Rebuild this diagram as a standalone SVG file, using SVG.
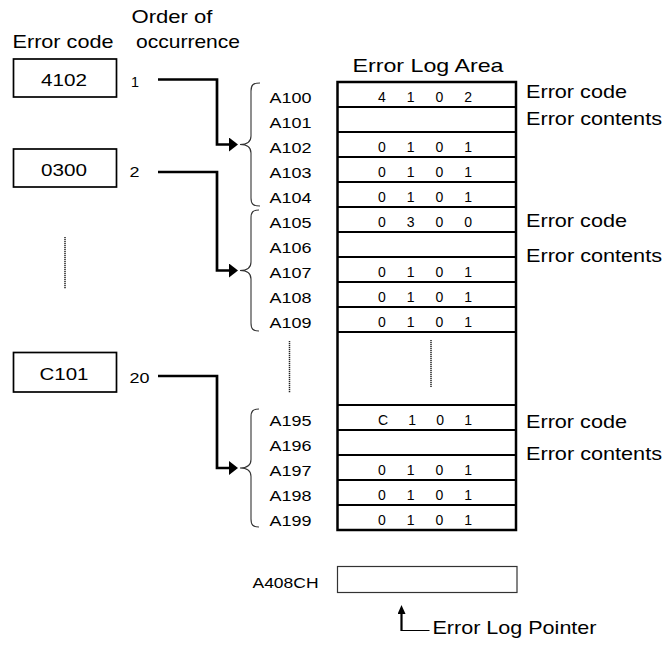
<svg xmlns="http://www.w3.org/2000/svg" width="665" height="645" viewBox="0 0 665 645">
<style>
text{font-family:"Liberation Sans",Arial,Helvetica,sans-serif;fill:#000}
.lg{font-size:18.5px}
.md{font-size:16.5px}
.sm{font-size:15px}
.xs{font-size:14px}
.box{fill:#fff;stroke:#000;stroke-width:1.7}
.tbl{fill:none;stroke:#000;stroke-width:2.5}
.row{stroke:#000;stroke-width:2}
.reg{fill:#fff;stroke:#333;stroke-width:1.2}
.brace{fill:none;stroke:#333;stroke-width:1.1}
.dots{stroke:#222;stroke-width:1.5;stroke-dasharray:1.2 0.8}
.conn{fill:none;stroke:#000;stroke-width:2.7}
.thin{fill:none;stroke:#000;stroke-width:1}
</style>
<defs>
<marker id="arr" markerUnits="userSpaceOnUse" markerWidth="9" markerHeight="14" viewBox="0 0 9 14" refX="0" refY="7" orient="auto"><path d="M0,0 L9,7 L0,14 z" fill="#000"/></marker>
<marker id="ptr" markerUnits="userSpaceOnUse" markerWidth="9" markerHeight="8" viewBox="0 0 9 8" refX="0" refY="4" orient="auto"><path d="M0,0 L9,4 L0,8 z" fill="#000"/></marker>
</defs>

<g id="headers">
<text class="lg" x="12.5" y="48.3" textLength="101" lengthAdjust="spacingAndGlyphs">Error code</text>
<text class="lg" x="131.5" y="22.7" textLength="81" lengthAdjust="spacingAndGlyphs">Order of</text>
<text class="lg" x="136" y="48.3" textLength="104" lengthAdjust="spacingAndGlyphs">occurrence</text>
<text class="lg" x="352.5" y="71.7" textLength="151" lengthAdjust="spacingAndGlyphs">Error Log Area</text>
</g>

<g id="code-4102">
<rect class="box" x="13.5" y="59" width="103" height="38"/>
<text class="md" x="41" y="86" textLength="46" lengthAdjust="spacingAndGlyphs">4102</text>
<text class="xs" x="131" y="86.5" textLength="8" lengthAdjust="spacingAndGlyphs">1</text>
</g>
<g id="code-0300">
<rect class="box" x="13.5" y="149" width="103" height="38"/>
<text class="md" x="41" y="176" textLength="46" lengthAdjust="spacingAndGlyphs">0300</text>
<text class="xs" x="129.5" y="177" textLength="10" lengthAdjust="spacingAndGlyphs">2</text>
</g>
<g id="code-C101">
<rect class="box" x="13.5" y="352.5" width="103" height="39.5"/>
<text class="md" x="39.5" y="380" textLength="49" lengthAdjust="spacingAndGlyphs">C101</text>
<text class="xs" x="129.5" y="382.7" textLength="20" lengthAdjust="spacingAndGlyphs">20</text>
</g>
<g id="ellipsis-left">
<line class="dots" x1="65" y1="237" x2="65" y2="289"/>
</g>

<g id="error-log-area">
<rect class="tbl" x="337.5" y="82" width="178.5" height="448"/>
<g class="row">
<line x1="337.5" y1="107" x2="516" y2="107"/>
<line x1="337.5" y1="132" x2="516" y2="132"/>
<line x1="337.5" y1="157" x2="516" y2="157"/>
<line x1="337.5" y1="182" x2="516" y2="182"/>
<line x1="337.5" y1="207" x2="516" y2="207"/>
<line x1="337.5" y1="232" x2="516" y2="232"/>
<line x1="337.5" y1="257" x2="516" y2="257"/>
<line x1="337.5" y1="282" x2="516" y2="282"/>
<line x1="337.5" y1="307" x2="516" y2="307"/>
<line x1="337.5" y1="332" x2="516" y2="332"/>
<line x1="337.5" y1="405" x2="516" y2="405"/>
<line x1="337.5" y1="430" x2="516" y2="430"/>
<line x1="337.5" y1="455" x2="516" y2="455"/>
<line x1="337.5" y1="480" x2="516" y2="480"/>
<line x1="337.5" y1="505" x2="516" y2="505"/>
</g>
<line class="dots" x1="431" y1="340" x2="431" y2="387"/>
<g class="xs">
<text x="378" y="102" textLength="94" lengthAdjust="spacing">4 1 0 2</text>
<text x="378" y="152" textLength="94" lengthAdjust="spacing">0 1 0 1</text>
<text x="378" y="177" textLength="94" lengthAdjust="spacing">0 1 0 1</text>
<text x="378" y="202" textLength="94" lengthAdjust="spacing">0 1 0 1</text>
<text x="378" y="227" textLength="94" lengthAdjust="spacing">0 3 0 0</text>
<text x="378" y="277" textLength="94" lengthAdjust="spacing">0 1 0 1</text>
<text x="378" y="302" textLength="94" lengthAdjust="spacing">0 1 0 1</text>
<text x="378" y="327" textLength="94" lengthAdjust="spacing">0 1 0 1</text>
<text x="378" y="425" textLength="94" lengthAdjust="spacing">C 1 0 1</text>
<text x="378" y="475" textLength="94" lengthAdjust="spacing">0 1 0 1</text>
<text x="378" y="500" textLength="94" lengthAdjust="spacing">0 1 0 1</text>
<text x="378" y="525" textLength="94" lengthAdjust="spacing">0 1 0 1</text>
</g>
</g>

<g id="addresses" class="sm">
<text x="269.5" y="102.5" textLength="42" lengthAdjust="spacingAndGlyphs">A100</text>
<text x="269.5" y="127.5" textLength="42" lengthAdjust="spacingAndGlyphs">A101</text>
<text x="269.5" y="152.5" textLength="42" lengthAdjust="spacingAndGlyphs">A102</text>
<text x="269.5" y="177.5" textLength="42" lengthAdjust="spacingAndGlyphs">A103</text>
<text x="269.5" y="202.5" textLength="42" lengthAdjust="spacingAndGlyphs">A104</text>
<text x="269.5" y="227.5" textLength="42" lengthAdjust="spacingAndGlyphs">A105</text>
<text x="269.5" y="252.5" textLength="42" lengthAdjust="spacingAndGlyphs">A106</text>
<text x="269.5" y="277.5" textLength="42" lengthAdjust="spacingAndGlyphs">A107</text>
<text x="269.5" y="302.5" textLength="42" lengthAdjust="spacingAndGlyphs">A108</text>
<text x="269.5" y="327.5" textLength="42" lengthAdjust="spacingAndGlyphs">A109</text>
<text x="269.5" y="425.5" textLength="42" lengthAdjust="spacingAndGlyphs">A195</text>
<text x="269.5" y="450.5" textLength="42" lengthAdjust="spacingAndGlyphs">A196</text>
<text x="269.5" y="475.5" textLength="42" lengthAdjust="spacingAndGlyphs">A197</text>
<text x="269.5" y="500.5" textLength="42" lengthAdjust="spacingAndGlyphs">A198</text>
<text x="269.5" y="525.5" textLength="42" lengthAdjust="spacingAndGlyphs">A199</text>
<line class="dots" x1="289.5" y1="341" x2="289.5" y2="393"/>
</g>

<g id="braces" class="brace">
<path d="M260,83 C253,83 251,85 251,91 V136 C251,141 248,144.5 240,144.5 C248,144.5 251,148 251,153 V198 C251,204 253,206 260,206"/>
<path d="M259,210 C253,210 251,212 251,218 V262 C251,267 248,270.5 240,270.5 C248,270.5 251,274 251,279 V323 C251,329 253,331 259,331"/>
<path d="M259,409 C253,409 251,411 251,417 V459.5 C251,464.5 248,468 240,468 C248,468 251,471.5 251,476.5 V519 C251,525 253,527 259,527"/>
</g>

<g id="right-labels" class="lg">
<text x="526" y="97.5" textLength="101" lengthAdjust="spacingAndGlyphs">Error code</text>
<text x="526" y="125" textLength="136" lengthAdjust="spacingAndGlyphs">Error contents</text>
<text x="526" y="227" textLength="101" lengthAdjust="spacingAndGlyphs">Error code</text>
<text x="526" y="262" textLength="136" lengthAdjust="spacingAndGlyphs">Error contents</text>
<text x="526" y="428" textLength="101" lengthAdjust="spacingAndGlyphs">Error code</text>
<text x="526" y="460" textLength="136" lengthAdjust="spacingAndGlyphs">Error contents</text>
</g>

<g id="pointer-register">
<text class="sm" x="252.5" y="588" textLength="66" lengthAdjust="spacingAndGlyphs">A408CH</text>
<rect class="reg" x="337.5" y="566.5" width="179.5" height="26"/>
</g>
<g id="pointer-label">
<text class="lg" x="432.5" y="634.3" textLength="164" lengthAdjust="spacingAndGlyphs">Error Log Pointer</text>
</g>

<g id="connectors">
<path class="conn" d="M158,79.5 H217 V144.5 H229" marker-end="url(#arr)"/>
<path class="conn" d="M158,172 H217 V270.5 H229" marker-end="url(#arr)"/>
<path class="conn" d="M158,376 H217 V468 H229" marker-end="url(#arr)"/>
<line x1="401.5" y1="631" x2="401.5" y2="614" stroke="#000" stroke-width="2.2" marker-end="url(#ptr)"/>
<line class="thin" x1="401.5" y1="630.5" x2="429.5" y2="630.5"/>
</g>
</svg>
